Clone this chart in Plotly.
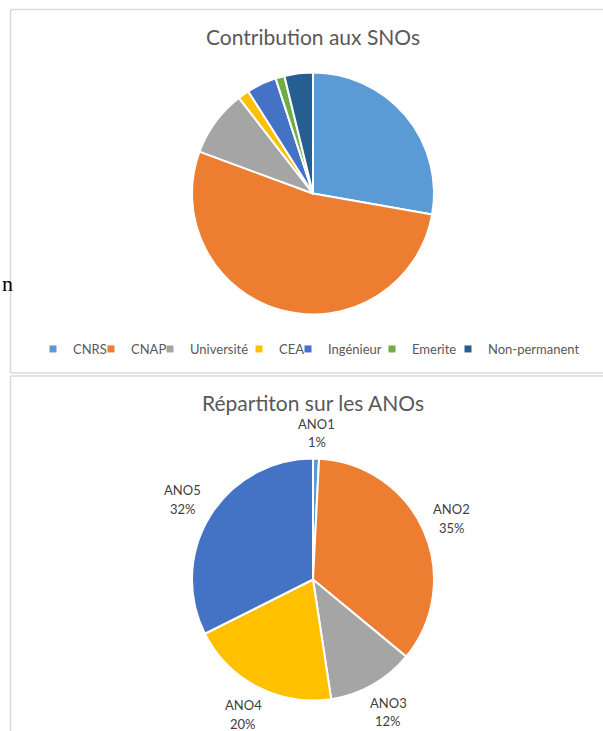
import math
import plotly.graph_objects as go

W, H = 603, 731

# ---- data ----
sno_labels = ["CNRS", "CNAP", "Université", "CEA", "Ingénieur", "Emerite", "Non-permanent"]
sno_values = [27.8, 52.9, 8.9, 1.5, 4.0, 1.2, 3.8]
sno_colors = ["#5B9BD5", "#ED7D31", "#A5A5A5", "#FFC000", "#4472C4", "#70AD47", "#255E91"]

ano_labels = ["ANO1", "ANO2", "ANO3", "ANO4", "ANO5"]
ano_values = [2, 88, 29, 50, 81]
ano_colors = ["#5B9BD5", "#ED7D31", "#A5A5A5", "#FFC000", "#4472C4"]

title_top = "Contribution aux SNOs"
title_bottom = "Répartiton sur les ANOs"

# legend text start positions (px) measured on reference
legend_text_x = [67, 125, 184, 273, 322, 406, 482]

FONT = "Lato"
GREY = "#595959"


def px_x(x):
    return x / W


def px_y(y):
    return 1 - y / H


fig = go.Figure()

R = 121
cx, cy_top, cy_bot = 313, 193.5, 579.5

fig.add_trace(go.Pie(
    labels=sno_labels, values=sno_values, sort=False, direction="clockwise", rotation=0,
    marker=dict(colors=sno_colors, line=dict(color="white", width=2)),
    textinfo="none", hoverinfo="label+percent", showlegend=False,
    domain=dict(x=[px_x(cx - R), px_x(cx + R)], y=[px_y(cy_top + R), px_y(cy_top - R)]),
))

fig.add_trace(go.Pie(
    labels=ano_labels, values=ano_values, sort=False, direction="clockwise", rotation=0,
    marker=dict(colors=ano_colors, line=dict(color="white", width=2)),
    textinfo="none", hoverinfo="label+percent", showlegend=False,
    domain=dict(x=[px_x(cx - R), px_x(cx + R)], y=[px_y(cy_bot + R), px_y(cy_bot - R)]),
))

# legend entries (one legend per entry to reproduce spacing)
legend_layouts = {}
for i, (lab, col, tx) in enumerate(zip(sno_labels, sno_colors, legend_text_x)):
    lid = "legend" if i == 0 else f"legend{i + 1}"
    fig.add_trace(go.Scatter(
        x=[None], y=[None], mode="markers", name=lab,
        marker=dict(symbol="square", size=7, color=col),
        legend=lid, showlegend=True, hoverinfo="skip",
    ))
    legend_layouts[lid] = dict(
        x=px_x(tx - 34), xanchor="left", y=px_y(349), yanchor="middle",
        orientation="h", bgcolor="rgba(0,0,0,0)", borderwidth=0,
        font=dict(family=FONT, size=13, color=GREY),
    )

shapes = [
    dict(type="line", xref="paper", yref="paper", x0=px_x(10.5), x1=1.01, y0=px_y(9.5), y1=px_y(9.5),
         line=dict(color="#D9D9D9", width=1.5)),
    dict(type="line", xref="paper", yref="paper", x0=px_x(10.5), x1=px_x(10.5), y0=px_y(9.5), y1=px_y(373),
         line=dict(color="#D9D9D9", width=1.5)),
    dict(type="line", xref="paper", yref="paper", x0=px_x(10.5), x1=1.01, y0=px_y(373), y1=px_y(373),
         line=dict(color="#D9D9D9", width=1.5)),
    dict(type="line", xref="paper", yref="paper", x0=px_x(10.5), x1=1.01, y0=px_y(376), y1=px_y(376),
         line=dict(color="#D9D9D9", width=1.5)),
    dict(type="line", xref="paper", yref="paper", x0=px_x(10.5), x1=px_x(10.5), y0=px_y(376), y1=-0.01,
         line=dict(color="#D9D9D9", width=1.5)),
]

annotations = [
    dict(text=title_top, x=px_x(313), y=px_y(37), xref="paper", yref="paper",
         xanchor="center", yanchor="middle", showarrow=False, borderpad=0,
         font=dict(family=FONT, size=21, color=GREY)),
    dict(text=title_bottom, x=px_x(313), y=px_y(402), xref="paper", yref="paper",
         xanchor="center", yanchor="middle", showarrow=False, borderpad=0,
         font=dict(family=FONT, size=21, color=GREY)),
    dict(text="n", x=0, y=px_y(283), xref="paper", yref="paper",
         xanchor="left", yanchor="middle", showarrow=False,
         font=dict(family="Liberation Serif", size=22, color="#000000")),
]

# outside-end data labels for the ANO pie, placed from the slice mid-angles
total = sum(ano_values)
cum = 0.0
half_w, half_h, gap, line_step = 18, 18, 7, 18.5
for lab, v in zip(ano_labels, ano_values):
    theta = 2 * math.pi * (cum + v / 2) / total
    cum += v
    ux, uy = math.sin(theta), -math.cos(theta)  # screen coords (y down)
    r = R + gap + half_w * abs(ux) + half_h * abs(uy)
    lx, ly = cx + r * ux, cy_bot + r * uy
    pct = round(100 * v / total)
    for txt, dy in ((lab, -line_step / 2), (f"{pct}%", line_step / 2)):
        annotations.append(dict(
            text=txt, x=px_x(lx), y=px_y(ly + dy), xref="paper", yref="paper",
            xanchor="center", yanchor="middle", showarrow=False, borderpad=0,
            font=dict(family=FONT, size=13, color="#404040"),
        ))

layout = dict(
    width=W, height=H, margin=dict(l=0, r=0, t=0, b=0),
    paper_bgcolor="white", plot_bgcolor="white",
    xaxis=dict(visible=False), yaxis=dict(visible=False),
    shapes=shapes, annotations=annotations,
)
layout.update(legend_layouts)
fig.update_layout(**layout)

fig.write_html("out.html")
